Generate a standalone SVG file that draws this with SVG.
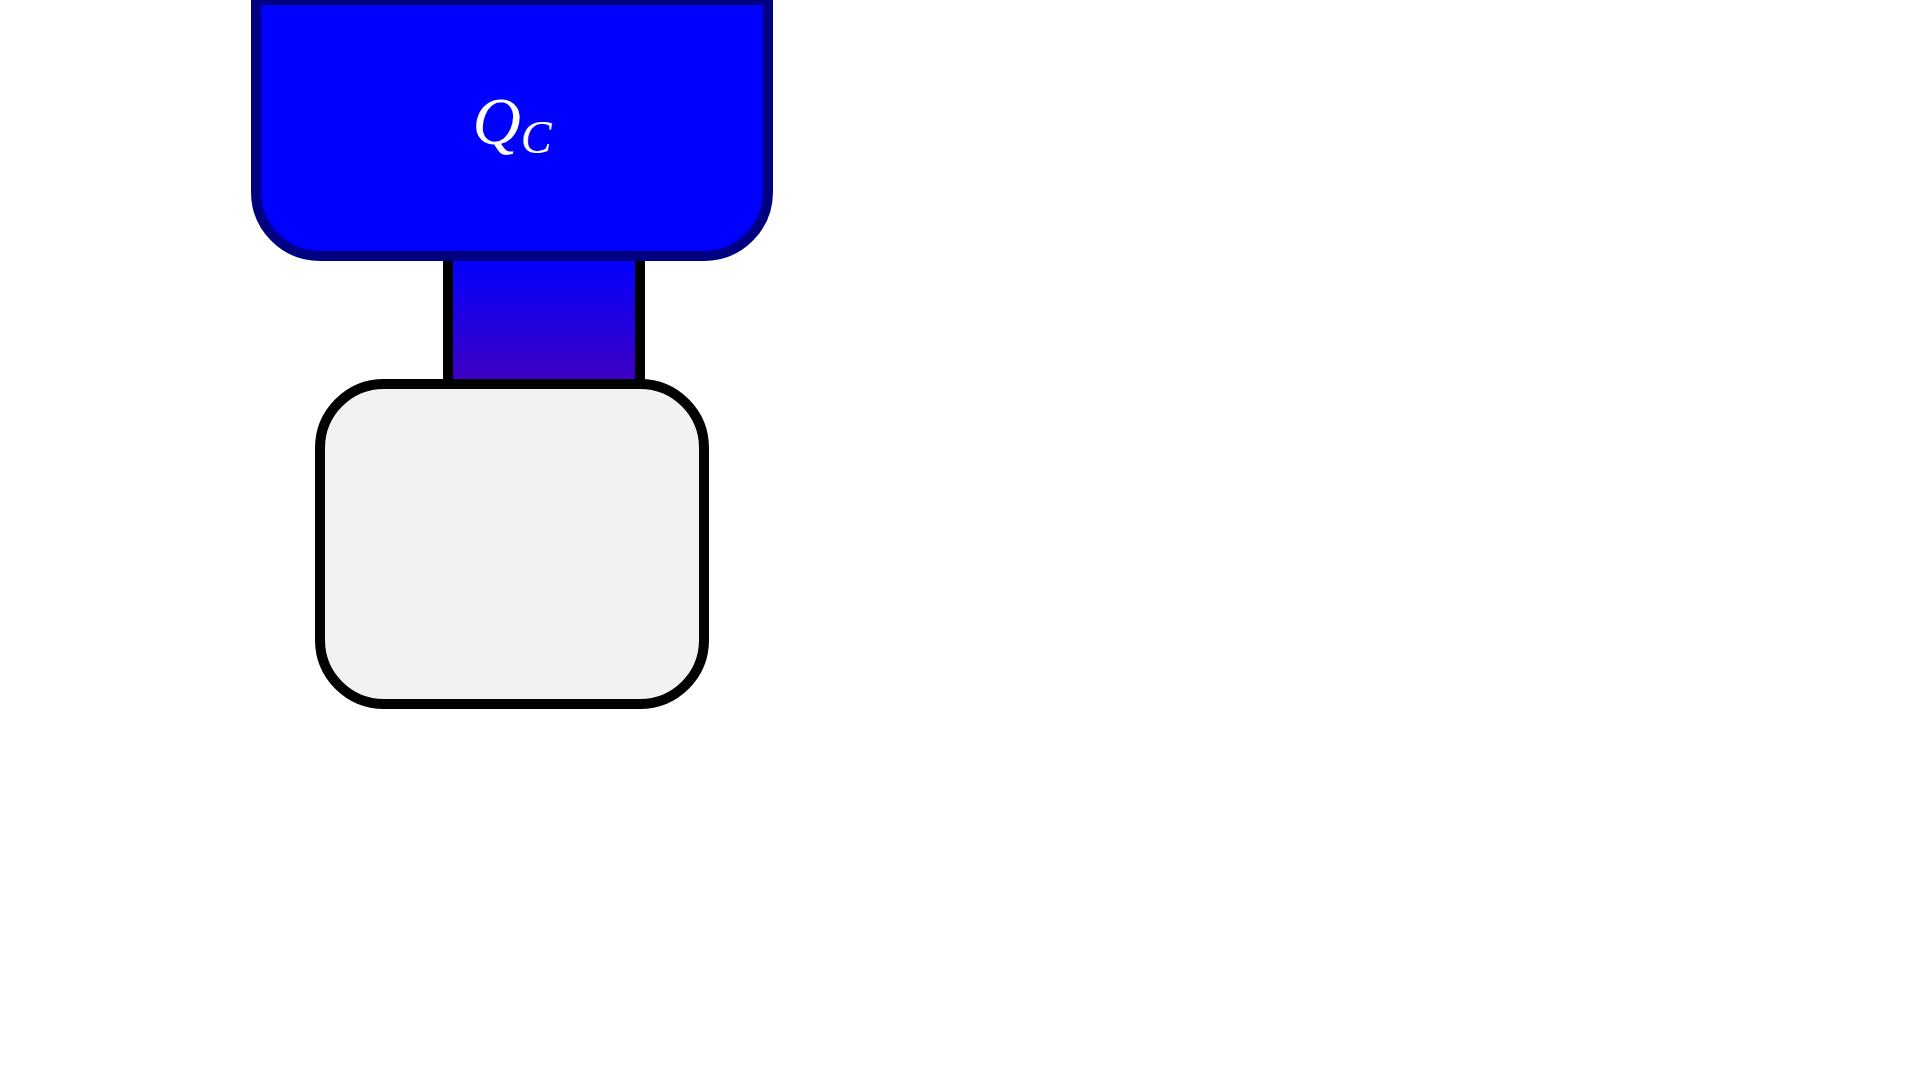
<svg xmlns="http://www.w3.org/2000/svg" width="1920" height="1080" viewBox="0 0 1920 1080">
  <defs>
    <linearGradient id="linkGrad" x1="0" y1="0" x2="0" y2="1">
      <stop offset="0" stop-color="#0000ff"/>
      <stop offset="1" stop-color="#4000c0"/>
    </linearGradient>
    <style>
      .node-blue { fill: #0000ff; stroke: #000080; stroke-width: 10; }
      .node-grey { fill: #f2f2f2; stroke: #000000; stroke-width: 10; }
      .link { fill: url(#linkGrad); stroke: #000000; stroke-width: 10; }
      .label { font-family: "Liberation Serif", "DejaVu Serif", serif; font-style: italic; fill: #ffffff; }
    </style>
  </defs>
  <rect width="1920" height="1080" fill="#ffffff"/>
  <g id="connectors">
    <rect class="link" x="448" y="256" width="192" height="128"/>
  </g>
  <g id="node-qc">
    <path class="node-blue" d="M256 0 H768 V192 A64 64 0 0 1 704 256 H320 A64 64 0 0 1 256 192 Z"/>
    <text class="label" x="512" y="144" text-anchor="middle" font-size="67">Q<tspan font-size="46" dy="9">C</tspan></text>
  </g>
  <g id="node-lower">
    <rect class="node-grey" x="320" y="384" width="384" height="320" rx="64" ry="64"/>
  </g>
</svg>
